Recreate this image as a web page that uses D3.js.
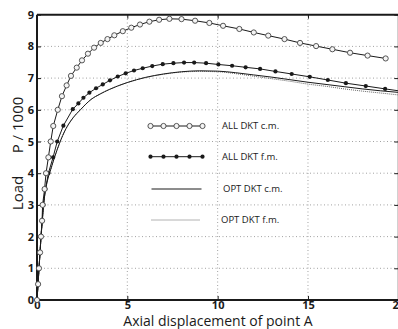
<!DOCTYPE html>
<html><head><meta charset="utf-8">
<script src="https://cdn.jsdelivr.net/npm/d3@7"></script>
<style>
html,body{margin:0;padding:0;background:#fff;}
svg{display:block;font-family:"Open Sans","DejaVu Sans",sans-serif;}
</style></head>
<body>
<svg id="chart" width="398" height="329"></svg>
<script>
// ---- data ----
const xTicks = [0, 5, 10, 15, 20];
const yTicks = [0, 1, 2, 3, 4, 5, 6, 7, 8, 9];
const seriesNames = ["ALL DKT c.m.", "ALL DKT f.m.", "OPT DKT c.m.", "OPT DKT f.m."];

const allDktCm = [[0,0],[0.06,0.5],[0.11,1.0],[0.17,1.5],[0.22,2.0],[0.28,2.5],[0.31,3.0],[0.42,3.5],[0.5,4.0],[0.63,4.5],[0.76,5.0],[0.9,5.49],[1.15,6.0],[1.38,6.43],[1.64,6.77],[1.88,7.07],[2.2,7.33],[2.49,7.56],[2.82,7.77],[3.16,7.96],[3.53,8.11],[3.9,8.23],[4.28,8.35],[4.75,8.48],[5.22,8.59],[5.70,8.69],[6.22,8.78],[6.76,8.84],[7.33,8.87],[8.0,8.86],[8.75,8.81],[9.54,8.74],[10.3,8.65],[11.2,8.55],[12.0,8.44],[12.8,8.34],[13.7,8.23],[14.56,8.11],[15.45,8.01],[16.35,7.91],[17.33,7.80],[18.3,7.71],[19.3,7.62]];

const allDktFm = [[0,0],[0.06,0.5],[0.11,1.0],[0.17,1.5],[0.22,2.0],[0.3,2.5],[0.36,3.0],[0.47,3.5],[0.63,4.0],[0.89,4.5],[1.12,5.0],[1.46,5.5],[1.98,6.02],[2.29,6.2],[2.57,6.38],[2.9,6.54],[3.27,6.68],[3.64,6.8],[4.04,6.93],[4.47,7.05],[4.91,7.15],[5.37,7.24],[5.85,7.31],[6.38,7.38],[6.96,7.44],[7.55,7.47],[8.14,7.49],[8.7,7.49],[9.36,7.47],[10.04,7.43],[10.8,7.39],[11.55,7.34],[12.35,7.29],[13.2,7.21],[14.1,7.13],[15.1,7.04],[16.1,6.94],[17.1,6.84],[18.2,6.75],[19.27,6.66]];
const allDktFmEnd = [[19.27,6.66],[20,6.6]];

const optDktCm = [[0,0],[0.1,0.9],[0.2,1.8],[0.3,2.6],[0.4,3.2],[0.55,3.7],[0.75,4.1],[1.0,4.55],[1.25,4.95],[1.6,5.4],[2.0,5.75],[2.4,6.0],[3.0,6.33],[3.5,6.5],[4.0,6.64],[5.0,6.86],[6.0,7.02],[7.0,7.13],[8.0,7.2],[9.0,7.23],[10.0,7.22],[11.0,7.17],[12.0,7.1],[13.0,7.03],[14.0,6.95],[15.0,6.87],[16.0,6.8],[17.0,6.73],[18.0,6.66],[19.0,6.6],[20.0,6.55]];

const optDktFm = [[0,0],[0.1,0.9],[0.2,1.8],[0.3,2.6],[0.4,3.2],[0.55,3.7],[0.75,4.1],[1.0,4.55],[1.25,4.95],[1.6,5.4],[2.0,5.75],[2.4,6.0],[3.0,6.33],[3.5,6.5],[4.0,6.64],[5.0,6.86],[6.0,7.02],[7.0,7.12],[8.0,7.19],[9.0,7.21],[10.0,7.2],[11.0,7.14],[12.0,7.06],[13.0,6.98],[14.0,6.9],[15.0,6.81],[16.0,6.74],[17.0,6.66],[18.0,6.59],[19.0,6.53],[20.0,6.47]];

// ---- layout ----
const svg = d3.select("#chart");
const x = d3.scaleLinear().domain([0, 20]).range([37, 398.3]);
const y = d3.scaleLinear().domain([0, 9]).range([300, 14.7]);
const ink = "#1a1a1a";

// grid
const g = svg.append("g");
g.selectAll(".gy").data(yTicks.filter(d => d > 0 && d < 9)).enter().append("line")
  .attr("x1", x(0)).attr("x2", x(20)).attr("y1", d => y(d)).attr("y2", d => y(d))
  .attr("stroke", "#8a8a8a").attr("stroke-width", 0.8).attr("stroke-dasharray", "1,2.5");
g.selectAll(".gx").data(xTicks.filter(d => d > 0 && d < 20)).enter().append("line")
  .attr("y1", y(0)).attr("y2", y(9)).attr("x1", d => x(d)).attr("x2", d => x(d))
  .attr("stroke", "#8a8a8a").attr("stroke-width", 0.8).attr("stroke-dasharray", "1,2.5");

// axes
const yAxis = d3.axisLeft(y).tickValues(yTicks).tickSize(-4).tickPadding(3).tickFormat(d3.format("d"));
const xAxis = d3.axisBottom(x).tickValues(xTicks).tickSize(-4).tickPadding(3).tickFormat(d3.format("d"));
const ya = svg.append("g").attr("transform", `translate(${x(0)},0)`).call(yAxis);
const xa = svg.append("g").attr("transform", `translate(0,${y(0)})`).call(xAxis);
const xTop = svg.append("g").attr("transform", `translate(0,${y(9)})`).call(d3.axisTop(x).tickValues(xTicks).tickSize(-4).tickFormat(""));
const yRight = svg.append("g").attr("transform", `translate(${x(20)},0)`).call(d3.axisRight(y).tickValues(yTicks).tickSize(-4).tickFormat(""));
[ya, xa, xTop, yRight].forEach(a => {
  a.select(".domain").remove();
  a.selectAll(".tick line").attr("stroke", ink).attr("stroke-width", 1);
  a.selectAll(".tick text").attr("fill", ink).attr("font-size", 11).attr("font-weight", "bold")
    .attr("font-family", "'Open Sans','DejaVu Sans',sans-serif");
});
xa.selectAll(".tick text").attr("dy", "0.55em");

// frame
svg.append("line").attr("x1", x(0)).attr("x2", x(20)).attr("y1", y(9)).attr("y2", y(9)).attr("stroke", ink).attr("stroke-width", 2);
svg.append("line").attr("x1", x(0)).attr("x2", x(20)).attr("y1", y(0)).attr("y2", y(0)).attr("stroke", ink).attr("stroke-width", 2);
svg.append("line").attr("x1", x(0)).attr("x2", x(0)).attr("y1", y(0)).attr("y2", y(9)).attr("stroke", ink).attr("stroke-width", 2);
svg.append("line").attr("x1", x(20)).attr("x2", x(20)).attr("y1", y(0)).attr("y2", y(9)).attr("stroke", ink).attr("stroke-width", 1);

// curves
const line = d3.line().x(d => x(d[0])).y(d => y(d[1]));
const smooth = d3.line().x(d => x(d[0])).y(d => y(d[1])).curve(d3.curveMonotoneX);

svg.append("path").datum(optDktFm).attr("d", smooth).attr("fill", "none")
  .attr("stroke", "#555").attr("stroke-width", 0.9).attr("stroke-dasharray", "1,1");
svg.append("path").datum(optDktCm).attr("d", smooth).attr("fill", "none")
  .attr("stroke", ink).attr("stroke-width", 1);
svg.append("path").datum(allDktFm).attr("d", line).attr("fill", "none")
  .attr("stroke", ink).attr("stroke-width", 1);
svg.append("path").datum(allDktFmEnd).attr("d", line).attr("fill", "none")
  .attr("stroke", ink).attr("stroke-width", 1);
svg.append("path").datum(allDktCm).attr("d", line).attr("fill", "none")
  .attr("stroke", ink).attr("stroke-width", 1);

svg.append("g").selectAll("circle").data(allDktFm).enter().append("circle")
  .attr("cx", d => x(d[0])).attr("cy", d => y(d[1])).attr("r", 2.1).attr("fill", ink);
svg.append("g").selectAll("circle").data(allDktCm).enter().append("circle")
  .attr("cx", d => x(d[0])).attr("cy", d => y(d[1])).attr("r", 2.6)
  .attr("fill", "#f4f4f4").attr("stroke", "#444").attr("stroke-width", 0.9);

// legend
const legRows = [126, 156.7, 189, 220];
const lx0 = 150.5, lx1 = 202.5;
const lg = svg.append("g");
// row 1
lg.append("line").attr("x1", lx0).attr("x2", lx1).attr("y1", legRows[0]).attr("y2", legRows[0]).attr("stroke", ink).attr("stroke-width", 1);
lg.selectAll(".m1").data(d3.range(5)).enter().append("circle")
  .attr("cx", i => lx0 + i * (lx1 - lx0) / 4).attr("cy", legRows[0]).attr("r", 2.6)
  .attr("fill", "#f4f4f4").attr("stroke", "#444").attr("stroke-width", 0.9);
// row 2
lg.append("line").attr("x1", lx0).attr("x2", lx1).attr("y1", legRows[1]).attr("y2", legRows[1]).attr("stroke", ink).attr("stroke-width", 1);
lg.selectAll(".m2").data(d3.range(5)).enter().append("circle")
  .attr("cx", i => lx0 + i * (lx1 - lx0) / 4).attr("cy", legRows[1]).attr("r", 2.1).attr("fill", ink);
// row 3
lg.append("line").attr("x1", 151.5).attr("x2", 201.5).attr("y1", legRows[2]).attr("y2", legRows[2]).attr("stroke", ink).attr("stroke-width", 1);
// row 4
lg.append("line").attr("x1", 151.5).attr("x2", 200).attr("y1", legRows[3]).attr("y2", legRows[3])
  .attr("stroke", "#555").attr("stroke-width", 0.9).attr("stroke-dasharray", "1,1");
const legTextX = [222, 222, 223, 221];
lg.selectAll("text").data(seriesNames).enter().append("text")
  .attr("x", (d, i) => legTextX[i]).attr("y", (d, i) => legRows[i]).attr("dy", "0.35em")
  .attr("font-size", 9.5).attr("fill", ink).text(d => d);

// axis titles
svg.append("text").attr("x", 218).attr("y", 326).attr("text-anchor", "middle")
  .attr("font-size", 14).attr("fill", ink).text("Axial displacement of point A");
svg.append("text").attr("transform", "translate(23,193) rotate(-90)").attr("text-anchor", "middle")
  .attr("font-size", 15).attr("fill", ink).text("Load");
svg.append("text").attr("transform", "translate(23,125) rotate(-90)").attr("text-anchor", "middle")
  .attr("font-size", 15).attr("fill", ink).text("P / 1000");
</script>
</body></html>
